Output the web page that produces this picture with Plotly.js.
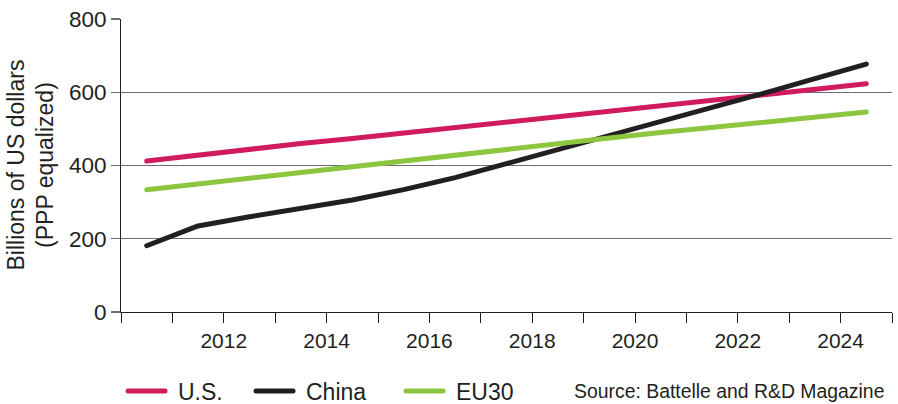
<!DOCTYPE html>
<html>
<head>
<meta charset="utf-8">
<script src="https://cdn.plot.ly/plotly-3.0.1.min.js"></script>
<style>
  html, body { margin: 0; padding: 0; background: #fff; }
  #chart { width: 898px; height: 404px; }
  .js-line { stroke-linecap: round; stroke-linejoin: round; }
  .infolayer .js-line { stroke-dasharray: 37px 1000px !important; }
</style>
</head>
<body>
<div id="chart"></div>
<script>
// Years (values plotted at mid-year)
const years = [2010, 2011, 2012, 2013, 2014, 2015, 2016, 2017, 2018, 2019, 2020, 2021, 2022, 2023, 2024];
const usValues    = [412, 429, 445, 460, 474, 488, 503, 518, 533, 548, 563, 579, 594, 608, 623];
const chinaValues = [181, 235, 260, 283, 306, 334, 367, 405, 443, 482, 520, 557, 597, 637, 677];
const eu30Values  = [334, 350, 365, 380, 395, 411, 427, 444, 460, 475, 490, 504, 518, 532, 546];

const seriesNames = ['U.S.', 'China', 'EU30'];
const seriesColors = ['#d01b5e', '#231f20', '#8cc63f'];

const xTickVals = [2010, 2011, 2012, 2013, 2014, 2015, 2016, 2017, 2018, 2019, 2020, 2021, 2022, 2023, 2024, 2025];
const xTickText = ['', '', '2012', '', '2014', '', '2016', '', '2018', '', '2020', '', '2022', '', '2024', ''];
const yTickVals = [0, 200, 400, 600, 800];

const yTitleText = 'Billions of US dollars<br>(PPP equalized)';
const sourceText = 'Source: Battelle and R&D Magazine';

const midYear = years.map(y => y + 0.5);
const allValues = [usValues, chinaValues, eu30Values];
const legendIds = ['legend', 'legend2', 'legend3'];

const traces = allValues.map((vals, i) => ({
  x: midYear,
  y: vals,
  type: 'scatter',
  mode: 'lines',
  name: seriesNames[i],
  line: { color: seriesColors[i], width: 5 },
  legend: legendIds[i],
  hoverinfo: 'skip'
}));

const textColor = '#231f20';
const baseFont = { family: 'Liberation Sans, Arial, sans-serif', size: 21, color: textColor };

function legendAt(x) {
  return {
    x: x, y: 0.032, xref: 'container', yref: 'container',
    xanchor: 'left', yanchor: 'middle',
    orientation: 'h', bgcolor: 'rgba(0,0,0,0)', borderwidth: 0,
    font: { family: baseFont.family, size: 23, color: textColor },
    itemwidth: 45, tracegroupgap: 0
  };
}

const layout = {
  width: 898, height: 404,
  margin: { l: 121, r: 6, t: 19, b: 92, autoexpand: false },
  paper_bgcolor: '#fff', plot_bgcolor: '#fff',
  font: baseFont,
  showlegend: true,
  legend: legendAt(123 / 898),
  legend2: legendAt(251 / 898),
  legend3: legendAt(401 / 898),
  xaxis: {
    range: [2010, 2025],
    tickmode: 'array', tickvals: xTickVals, ticktext: xTickText,
    ticks: 'outside', ticklen: 10, tickcolor: '#231f20', tickwidth: 1,
    showline: true, linecolor: '#231f20', linewidth: 1,
    showgrid: false, zeroline: false,
    tickfont: { family: baseFont.family, size: 21, color: textColor },
    fixedrange: true
  },
  yaxis: {
    range: [0, 800],
    tickmode: 'array', tickvals: yTickVals,
    ticks: 'outside', ticklen: 9, tickcolor: '#6d6e71', tickwidth: 1.3,
    showline: true, linecolor: '#231f20', linewidth: 1,
    showgrid: true, gridcolor: '#6d6e71', gridwidth: 1.3,
    zeroline: false,
    tickfont: { family: baseFont.family, size: 22.5, color: textColor },
    fixedrange: true
  },
  annotations: [
    {
      text: yTitleText, xref: 'paper', yref: 'paper',
      x: -0.118, y: 0.5, xanchor: 'center', yanchor: 'middle',
      textangle: -90, showarrow: false,
      font: { family: baseFont.family, size: 23, color: textColor }
    },
    {
      text: sourceText, xref: 'paper', yref: 'paper',
      x: 0.992, y: -0.2696, xanchor: 'right', yanchor: 'middle',
      showarrow: false,
      font: { family: baseFont.family, size: 19.4, color: textColor }
    }
  ]
};

Plotly.newPlot('chart', traces, layout, { displayModeBar: false, staticPlot: true });
</script>
</body>
</html>
